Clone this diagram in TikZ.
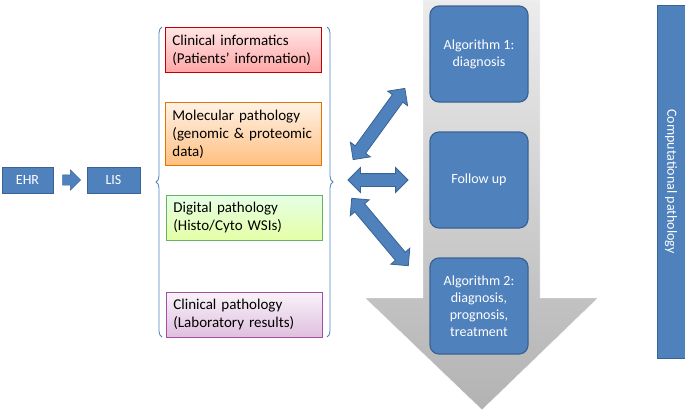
\documentclass[tikz,border=0pt]{standalone}
\usepackage{fontspec}
\setmainfont{Carlito}
\usetikzlibrary{shapes.arrows,decorations.pathreplacing}
\definecolor{boxblue}{HTML}{4F81BD}
\definecolor{edgeblue}{HTML}{3A6395}
\tikzset{
  bluebox/.style={draw=edgeblue, line width=1pt, fill=boxblue, text=white, inner sep=0pt},
  sourcebox/.style={line width=0.8pt, align=left, anchor=north west, inner xsep=7pt, inner ysep=4pt, text width=142pt, font=\fontsize{15}{18}\selectfont},
  algbox/.style={draw=edgeblue, line width=1.2pt, fill=boxblue, rounded corners=9pt, text=white, align=center, minimum width=98pt, minimum height=96pt, font=\fontsize{14}{17}\selectfont},
  fatarrow/.style={double arrow, draw=edgeblue, fill=boxblue, line width=0.8pt, inner xsep=0pt, inner ysep=6pt, double arrow head extend=6pt}
}
\begin{document}
\begin{tikzpicture}[x=1pt,y=-1pt]
  \useasboundingbox (0,0) rectangle (685,413);
  %big down arrow
  \shade[top color=gray!15, bottom color=gray!60, draw=white]
    (423,0) -- (540,0) -- (540,298) -- (598,298) -- (482,410) -- (365,298) -- (423,298) -- cycle;
  %EHR and LIS
  \node[bluebox, minimum width=51pt, minimum height=26pt, font=\fontsize{14}{16}\selectfont] (ehr) at (27.5,180) {EHR};
  \node[bluebox, minimum width=53pt, minimum height=26pt, font=\fontsize{14}{16}\selectfont] (lis) at (113.5,180) {LIS};
  \node[single arrow, draw=edgeblue, fill=boxblue, inner xsep=0pt, inner ysep=5pt, single arrow head extend=5pt, minimum height=18pt] (step) at (69,180) {};
  %data sources
  \node[sourcebox, draw=red!75!black, top color=red!10, bottom color=red!35, minimum height=45pt] (clin) at (165,27) {Clinical informatics\\(Patients’ information)};
  \node[sourcebox, draw=orange!90!black, top color=orange!10, bottom color=orange!50, minimum height=63pt] (mol) at (165,102) {Molecular pathology\\(genomic \& proteomic\\data)};
  \node[sourcebox, draw=green!50!black!60, top color=green!10, bottom color=green!30!yellow!35, minimum height=45pt] (dig) at (166,195) {Digital pathology\\(Histo/Cyto WSIs)};
  \node[sourcebox, draw=violet!70, top color=violet!5, bottom color=violet!25, minimum height=45pt] (lab) at (166,292) {Clinical pathology\\(Laboratory results)};
  %braces
  \draw[boxblue, line width=0.8pt, decorate, decoration={brace, amplitude=6pt}] (162,337) -- (162,27);
  \draw[boxblue, line width=0.8pt, decorate, decoration={brace, amplitude=6pt}] (327,27) -- (327,337);
  %algorithms
  \node[algbox] (alg1) at (479,54) {Algorithm 1:\\diagnosis};
  \node[algbox] (follow) at (479,180) {Follow up};
  \node[algbox] (alg2) at (479,306) {Algorithm 2:\\diagnosis,\\prognosis,\\treatment};
  %links
  \node[fatarrow, minimum height=88pt, rotate=54] (l1) at (379,124) {};
  \node[fatarrow, minimum height=60pt] (l2) at (378,180) {};
  \node[fatarrow, minimum height=88pt, rotate=-50] (l3) at (380,232) {};
  %computational pathology
  \node[bluebox, minimum width=28pt, minimum height=353pt] (comp) at (671,181.5) {};
  \node[rotate=-90, text=white, font=\fontsize{14}{16}\selectfont] (comptext) at (comp) {Computational pathology};
\end{tikzpicture}
\end{document}
